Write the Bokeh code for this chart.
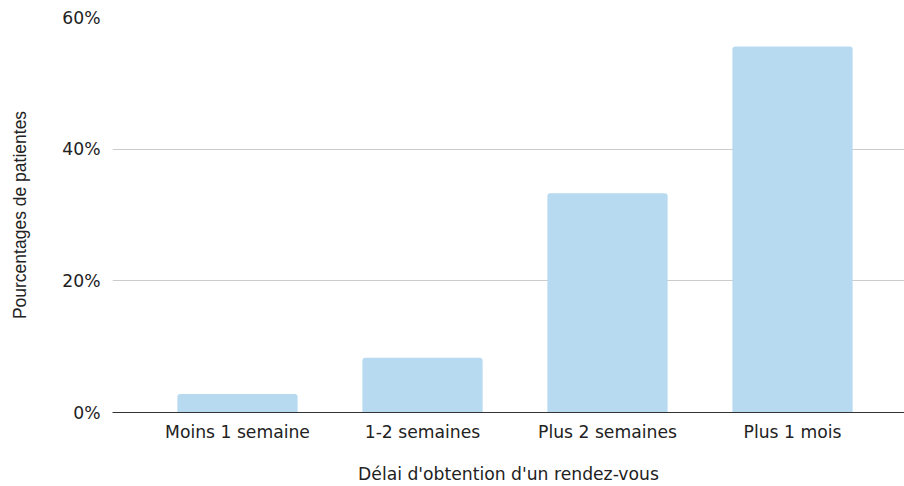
from bokeh.plotting import figure
from bokeh.models import Range1d, FixedTicker, PrintfTickFormatter, ColumnDataSource
from bokeh.embed import file_html
from bokeh.resources import INLINE

categories = ["Moins 1 semaine", "1-2 semaines", "Plus 2 semaines", "Plus 1 mois"]
values = [2.8, 8.3, 33.3, 55.6]
y_ticks = [0, 20, 40, 60]
x_title = "Délai d'obtention d'un rendez-vous"
y_title = "Pourcentages de patientes"

xs = list(range(len(categories)))
src = ColumnDataSource(dict(x=xs, top=values))

p = figure(frame_width=792, frame_height=395,
           min_border_left=112, min_border_right=0, min_border_top=17, min_border_bottom=0,
           x_range=Range1d(-0.6757, len(categories) - 1 + 0.6054),
           y_range=Range1d(y_ticks[0], y_ticks[-1]),
           output_backend="svg", toolbar_location=None)

p.vbar(x="x", top="top", width=0.65, bottom=0, source=src,
       fill_color="#b7daf0", line_color=None, border_radius=(3, 3, 0, 0))

p.outline_line_color = None
p.background_fill_color = "white"
p.border_fill_color = "white"
p.xgrid.visible = False
p.ygrid.grid_line_color = "#cccccc"
p.ygrid.grid_line_width = 1

font = "DejaVu Sans"

xa = p.xaxis[0]
xa.ticker = FixedTicker(ticks=xs)
xa.major_label_overrides = {i: c for i, c in zip(xs, categories)}
xa.major_tick_line_color = None
xa.minor_tick_line_color = None
xa.axis_line_color = "#333333"
xa.axis_line_width = 1
xa.major_label_standoff = 3
xa.major_label_text_font = font
xa.major_label_text_font_size = "17.2px"
xa.major_label_text_color = "#222222"
xa.axis_label = x_title
xa.axis_label_text_font = font
xa.axis_label_text_font_size = "17.2px"
xa.axis_label_text_font_style = "normal"
xa.axis_label_text_color = "#222222"
xa.axis_label_standoff = 19

ya = p.yaxis[0]
ya.ticker = FixedTicker(ticks=y_ticks)
ya.formatter = PrintfTickFormatter(format="%d%%")
ya.major_tick_line_color = None
ya.minor_tick_line_color = None
ya.axis_line_color = None
ya.major_label_standoff = 6
ya.major_label_text_font = font
ya.major_label_text_font_size = "17.2px"
ya.major_label_text_color = "#222222"
ya.axis_label = y_title
ya.axis_label_text_font = "Liberation Sans"
ya.axis_label_text_font_size = "17.5px"
ya.axis_label_text_font_style = "normal"
ya.axis_label_text_color = "#222222"
ya.axis_label_standoff = 29

open("out.html", "w").write(file_html(p, INLINE))
